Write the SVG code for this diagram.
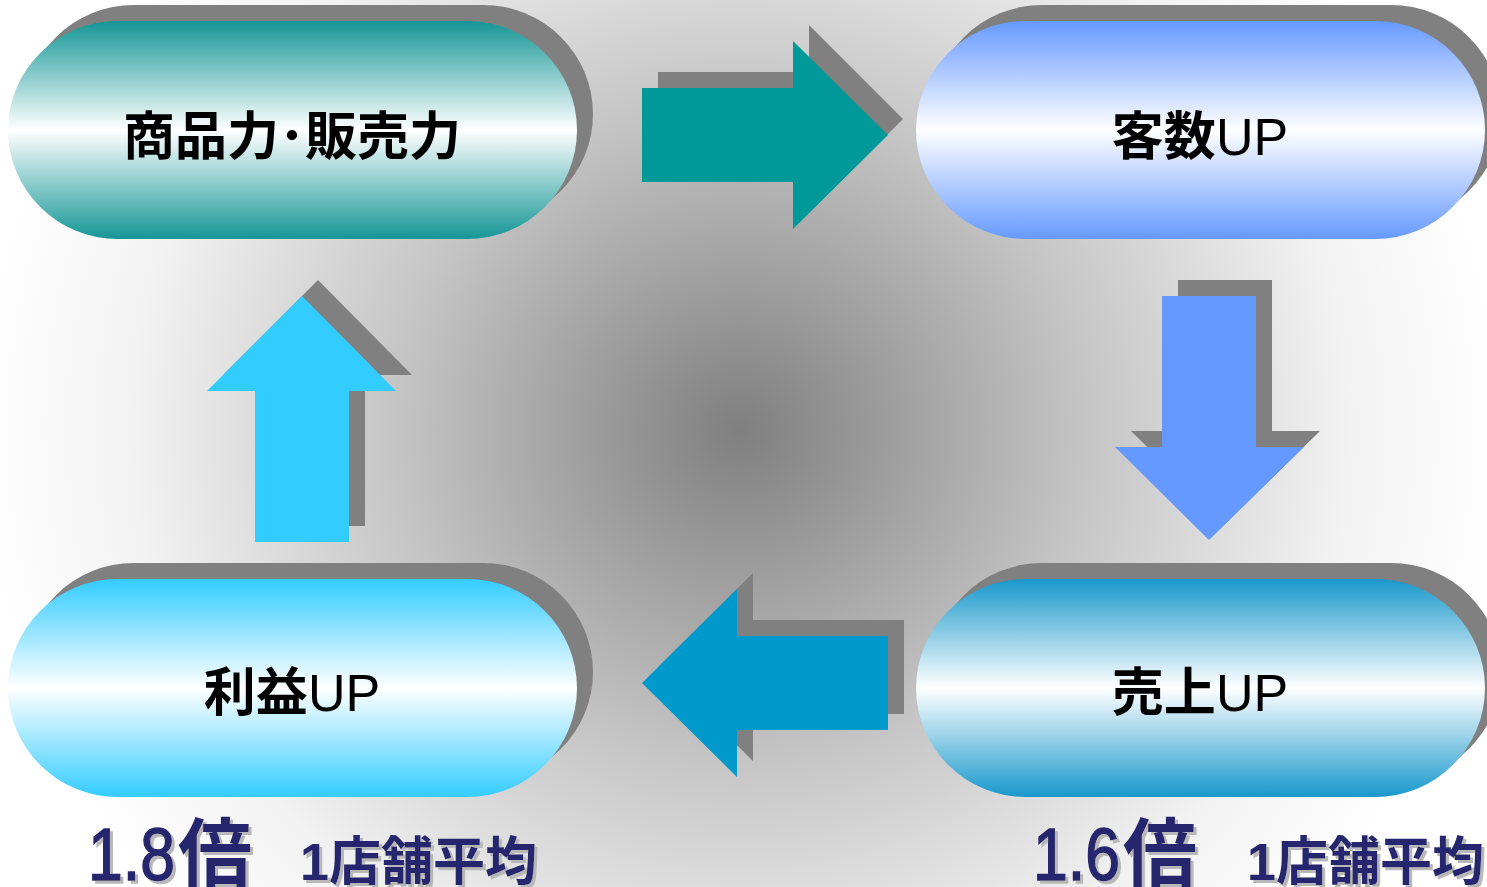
<svg xmlns="http://www.w3.org/2000/svg" width="1487" height="887" viewBox="0 0 1487 887">
<defs>
<radialGradient id="bg" gradientUnits="userSpaceOnUse" cx="740" cy="430" r="760" gradientTransform="translate(740 430) scale(1 0.95) translate(-740 -430)">
<stop offset="0" stop-color="#7f7f7f"/>
<stop offset="0.45" stop-color="#c4c4c4"/>
<stop offset="0.8" stop-color="#f2f2f2"/>
<stop offset="1" stop-color="#ffffff"/>
</radialGradient>
<linearGradient id="g1" x1="0" y1="0" x2="0" y2="1">
<stop offset="0" stop-color="#159696"/><stop offset="0.5" stop-color="#ffffff"/><stop offset="1" stop-color="#159696"/>
</linearGradient>
<linearGradient id="g2" x1="0" y1="0" x2="0" y2="1">
<stop offset="0" stop-color="#6699ff"/><stop offset="0.5" stop-color="#ffffff"/><stop offset="1" stop-color="#6699ff"/>
</linearGradient>
<linearGradient id="g3" x1="0" y1="0" x2="0" y2="1">
<stop offset="0" stop-color="#1998cc"/><stop offset="0.5" stop-color="#ffffff"/><stop offset="1" stop-color="#1998cc"/>
</linearGradient>
<linearGradient id="g4" x1="0" y1="0" x2="0" y2="1">
<stop offset="0" stop-color="#33ccff"/><stop offset="0.5" stop-color="#ffffff"/><stop offset="1" stop-color="#33ccff"/>
</linearGradient>
<filter id="ts" x="-10%" y="-10%" width="130%" height="130%">
<feDropShadow dx="3" dy="3" stdDeviation="0" flood-color="#b8b8b8"/>
</filter>
</defs>
<style>
.sh{fill:#808080}
.lbl{font-family:"Liberation Sans","Noto Sans CJK JP",sans-serif;font-size:52px;fill:#000;text-anchor:middle}
.cjk{font-weight:bold}
.big{font-family:"Liberation Sans","Noto Sans CJK JP",sans-serif;fill:#26266e;filter:url(#ts)}
.num{stroke:#26266e;stroke-width:1.6}
</style>
<rect width="1487" height="887" fill="url(#bg)"/>

<g id="node-shohin">
<rect class="sh" x="24" y="5" width="569" height="218" rx="110" ry="109"/>
<rect x="8" y="21" width="569" height="218" rx="110" ry="109" fill="url(#g1)"/>
<text class="lbl cjk" x="292" y="155">商品力･販売力</text>
</g>
<g id="node-kyakusu">
<rect class="sh" x="932" y="5" width="569" height="218" rx="110" ry="109"/>
<rect x="916" y="21" width="569" height="218" rx="110" ry="109" fill="url(#g2)"/>
<text class="lbl" x="1200" y="155"><tspan class="cjk">客数</tspan>UP</text>
</g>
<g id="node-uriage">
<rect class="sh" x="932" y="563" width="569" height="218" rx="110" ry="109"/>
<rect x="916" y="579" width="569" height="218" rx="110" ry="109" fill="url(#g3)"/>
<text class="lbl" x="1200" y="711"><tspan class="cjk">売上</tspan>UP</text>
</g>
<g id="node-rieki">
<rect class="sh" x="24" y="563" width="569" height="218" rx="110" ry="109"/>
<rect x="8" y="579" width="569" height="218" rx="110" ry="109" fill="url(#g4)"/>
<text class="lbl" x="292" y="711"><tspan class="cjk">利益</tspan>UP</text>
</g>

<g id="connectors">
<polygon class="sh" points="658,72 809,72 809,25 903,119 809,213 809,166 658,166"/>
<polygon fill="#009999" points="642,88 793,88 793,41 888,135 793,229 793,182 642,182"/>
<polygon class="sh" points="1178,280 1272,280 1272,431 1320,431 1225,524 1131,431 1178,431"/>
<polygon fill="#6699ff" points="1162,296 1256,296 1256,447 1304,447 1209,540 1115,447 1162,447"/>
<polygon class="sh" points="904,620 904,714 753,714 753,761 658,667 753,573 753,620"/>
<polygon fill="#0099cc" points="888,636 888,730 737,730 737,777 642,683 737,589 737,636"/>
<polygon class="sh" points="271,526 365,526 365,375 412,375 318,280 223,375 271,375"/>
<polygon fill="#33ccff" points="255,542 349,542 349,391 396,391 302,296 207,391 255,391"/>
</g>

<g id="note-left">
<text class="big" x="88" y="880" font-size="74"><tspan class="num" textLength="87" lengthAdjust="spacingAndGlyphs">1.8</tspan><tspan font-weight="bold" dx="3">倍</tspan></text>
<text class="big" x="300" y="880" font-size="52" font-weight="bold">1店舗平均</text>
</g>
<g id="note-right">
<text class="big" x="1033" y="880" font-size="74"><tspan class="num" textLength="87" lengthAdjust="spacingAndGlyphs">1.6</tspan><tspan font-weight="bold" dx="3">倍</tspan></text>
<text class="big" x="1247" y="880" font-size="52" font-weight="bold">1店舗平均</text>
</g>
</svg>
